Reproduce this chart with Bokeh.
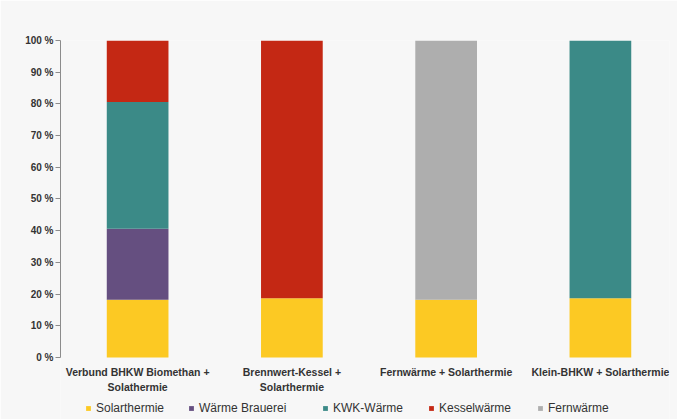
from bokeh.plotting import figure
from bokeh.models import (ColumnDataSource, Range1d, FixedTicker, PrintfTickFormatter,
                          Legend, LegendItem)
from bokeh.core.properties import value
from bokeh.embed import file_html
from bokeh.resources import INLINE

categories = ["Verbund BHKW Biomethan +\nSolathermie",
              "Brennwert-Kessel +\nSolarthermie",
              "Fernwärme + Solarthermie",
              "Klein-BHKW + Solarthermie"]
series_names = ["Solarthermie", "Wärme Brauerei", "KWK-Wärme", "Kesselwärme", "Fernwärme"]
solarthermie = [18.2, 18.7, 18.2, 18.7]
waerme_brauerei = [22.4, 0, 0, 0]
kwk_waerme = [40.0, 0, 0, 81.3]
kesselwaerme = [19.4, 81.3, 0, 0]
fernwaerme = [0, 0, 81.8, 0]
y_ticks = [0, 10, 20, 30, 40, 50, 60, 70, 80, 90, 100]

colors = ["#FCC923", "#654F80", "#3B8A87", "#C42814", "#AEAEAE"]
keys = ["s0", "s1", "s2", "s3", "s4"]

xs = list(range(len(categories)))
source = ColumnDataSource(data=dict(x=xs, s0=solarthermie, s1=waerme_brauerei,
                                    s2=kwk_waerme, s3=kesselwaerme, s4=fernwaerme))
label_source = ColumnDataSource(data=dict(x=xs, text=categories))

BG = "#f7f7f7"
FONT = "Liberation Sans"
TXT = "#333333"

# frame extends below 0 % so that category labels and legend lie inside it
p = figure(frame_width=609, frame_height=379, output_backend="svg", toolbar_location=None,
           x_range=Range1d(-0.5, 3.448), y_range=Range1d(-19.56, 100),
           min_border_left=60, min_border_right=8, min_border_top=40, min_border_bottom=0,
           background_fill_color=BG, border_fill_color=BG, outline_line_color=None)

renderers = p.vbar_stack(keys, x="x", width=0.4, source=source, color=colors,
                         line_color=None)

p.grid.visible = False
p.xaxis.visible = False

# y axis
ya = p.yaxis[0]
ya.bounds = (0, 100)
ya.ticker = FixedTicker(ticks=y_ticks)
ya.formatter = PrintfTickFormatter(format="%d %%")
ya.axis_line_color = "#8c8c8c"
ya.major_tick_line_color = "#8c8c8c"
ya.major_tick_out = 5
ya.major_tick_in = 0
ya.minor_tick_line_color = None
ya.major_label_standoff = 2
ya.major_label_text_font = FONT
ya.major_label_text_font_style = "bold"
ya.major_label_text_font_size = "10px"
ya.major_label_text_color = TXT

# category labels under the bars
p.text(x="x", y=-2.8, text="text", source=label_source,
       text_align="center", text_baseline="top", text_line_height=1.2,
       text_font=value(FONT), text_font_style="bold", text_font_size="10.5px",
       text_color=TXT)

# legend: one entry per series, at the bottom
legend_x = [25, 128, 262, 368, 477]
for r, name, lx in zip(renderers, series_names, legend_x):
    lg = Legend(items=[LegendItem(label=name, renderers=[r])],
                location=(lx, 4), orientation="horizontal",
                glyph_width=6, glyph_height=6, label_height=6,
                label_standoff=5, padding=0, margin=0, spacing=0,
                border_line_color=None, background_fill_alpha=0,
                label_text_font=FONT, label_text_font_size="12px",
                label_text_color=TXT)
    p.add_layout(lg, "center")

open("out.html", "w").write(file_html(p, INLINE))
